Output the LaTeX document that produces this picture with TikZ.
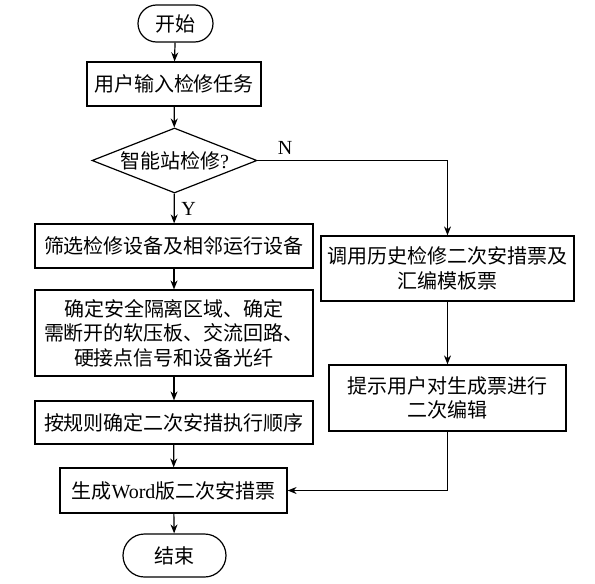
\documentclass[tikz,border=0pt]{standalone}
\usepackage{fontspec}
\setmainfont{Liberation Serif}
\newfontfamily\cjk{Noto Sans CJK SC}
\usetikzlibrary{shapes.geometric,shapes.misc,arrows.meta}

\begin{document}
\begin{tikzpicture}[x=0.5pt,y=-0.5pt]
\tikzstyle{box}=[rectangle, draw, line width=0.6pt, inner sep=0pt, align=center, font=\cjk\fontsize{10}{12.3}\selectfont]
\tikzstyle{term}=[rounded rectangle, draw, line width=0.6pt, inner sep=0pt, font=\cjk\fontsize{10}{12}\selectfont]
\tikzstyle{cond}=[diamond, draw, line width=0.6pt, inner sep=0pt, aspect=2.5, font=\cjk\fontsize{10}{12}\selectfont]
\tikzstyle{link}=[line width=0.6pt, -{Stealth[length=4.5pt,width=3.5pt]}]
\useasboundingbox (0,0) rectangle (595,584);

\node[term, minimum width=37.5pt, minimum height=18.5pt] (start) at (175.5,23.5) {开始};
\node[box, minimum width=87pt, minimum height=22pt] (task) at (174,84) {用户输入检修任务};
\node[cond, minimum width=82.5pt, minimum height=32.5pt] (smart) at (174.5,160.5) {智能站检修{\rmfamily ?}};
\node[box, minimum width=139pt, minimum height=22pt] (filter) at (174,246) {筛选检修设备及相邻运行设备};
\node[box, minimum width=139pt, minimum height=43pt] (iso) at (174,333) {确定安全隔离区域、确定\\需断开的软压板、交流回路、\\硬接点信号和设备光纤};
\node[box, minimum width=139pt, minimum height=21.5pt] (order) at (174,422.5) {按规则确定二次安措执行顺序};
\node[box, minimum width=113.5pt, minimum height=22.5pt] (word) at (173.5,490.5) {生成{\rmfamily Word}版二次安措票};
\node[term, minimum width=51.5pt, minimum height=21.5pt] (stop) at (174.5,555.5) {结束};
\node[box, minimum width=126.5pt, minimum height=32.5pt] (hist) at (447.5,268.5) {调用历史检修二次安措票及\\汇编模板票};
\node[box, minimum width=118.5pt, minimum height=33pt] (edit) at (447.5,398) {提示用户对生成票进行\\二次编辑};

\foreach \a/\b in {start/task, task/smart, filter/iso, iso/order, order/word, word/stop, hist/edit}
  \draw[link] (\a) -- (\b);
\draw[link] (smart) -- node[right, font=\fontsize{10}{12}\selectfont] (ylab) {Y} (filter);
\draw[link] (smart.east) -| (hist);
\draw[link] (edit.south) |- (word.east);
\node[font=\fontsize{10}{12}\selectfont] (nlab) at (285,148) {N};
\end{tikzpicture}
\end{document}
